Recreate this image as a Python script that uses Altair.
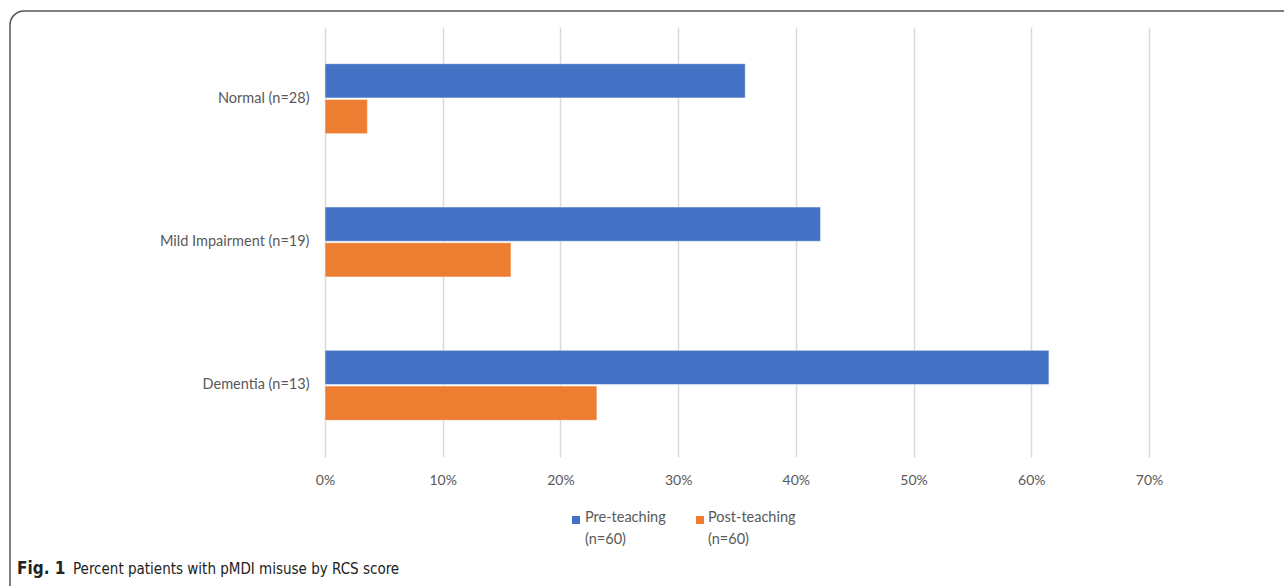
import altair as alt
import pandas as pd

categories = ["Normal (n=28)", "Mild Impairment (n=19)", "Dementia (n=13)"]
series = ["Pre-teaching", "Post-teaching"]
pre_values = [0.357, 0.421, 0.615]
post_values = [0.036, 0.158, 0.231]
x_ticks = [0, 0.1, 0.2, 0.3, 0.4, 0.5, 0.6, 0.7]
colors = ["#4472C4", "#ED7D31"]
legend_labels = ["Pre-teaching\n(n=60)", "Post-teaching\n(n=60)"]

rows = []
for c, v in zip(categories, pre_values):
    rows.append({"cat": c, "series": series[0], "value": v})
for c, v in zip(categories, post_values):
    rows.append({"cat": c, "series": series[1], "value": v})
df = pd.DataFrame(rows)

W, H = 824, 430
FONT = "Lato"
CAPFONT = "DejaVu Sans Condensed, Open Sans"
GRAY = "#595959"

bars = alt.Chart(df).mark_bar(stroke="white", strokeWidth=0.5).encode(
    x=alt.X("value:Q", scale=alt.Scale(domain=[0, 0.7], nice=False),
            axis=alt.Axis(values=x_ticks, format=".0%", title=None, grid=True,
                          gridColor="#d9d9d9", gridWidth=1.5, domain=False, ticks=False,
                          labelFlush=False,
                          labelPadding=16, labelFontSize=14, labelColor=GRAY, labelFont=FONT)),
    y=alt.Y("cat:N", sort=categories,
            scale=alt.Scale(paddingInner=0.512, paddingOuter=0.256),
            axis=alt.Axis(title=None, domain=False, ticks=False, grid=False,
                          labelPadding=16, labelFontSize=14.5, labelColor=GRAY, labelFont=FONT)),
    yOffset=alt.YOffset("series:N", sort=series, scale=alt.Scale(paddingInner=0.04)),
    color=alt.Color("series:N", sort=series,
                    scale=alt.Scale(domain=series, range=colors), legend=None),
)

leg_df = pd.DataFrame({"series": series, "label": legend_labels,
                       "sx": [251, 375], "tx": [260, 383]})
leg_sq = alt.Chart(leg_df).mark_square(size=64, opacity=1).encode(
    x=alt.X("sx:Q", scale=None), y=alt.value(493),
    color=alt.Color("series:N", scale=alt.Scale(domain=series, range=colors), legend=None),
)
leg_txt = alt.Chart(leg_df).mark_text(align="left", baseline="top", fontSize=14.5,
                                      font=FONT, color=GRAY, lineBreak="\n",
                                      lineHeight=22).encode(
    x=alt.X("tx:Q", scale=None), y=alt.value(484), text="label:N"
)

frame = alt.Chart(pd.DataFrame({"a": [0]})).mark_rect(
    fill=None, stroke="#555555", strokeWidth=1.5, cornerRadius=14, clip=False
).encode(x=alt.value(-315), x2=alt.value(1000), y=alt.value(-16), y2=alt.value(580))

cap1 = alt.Chart(pd.DataFrame({"t": ["Fig. 1"]})).mark_text(
    align="left", baseline="alphabetic", fontSize=17, fontWeight="bold",
    font=CAPFONT, color="#222222"
).encode(x=alt.value(-308), y=alt.value(547), text="t:N")
cap2 = alt.Chart(pd.DataFrame({"t": ["Percent patients with pMDI misuse by RCS score"]})).mark_text(
    align="left", baseline="alphabetic", fontSize=15,
    font=CAPFONT, color="#222222"
).encode(x=alt.value(-252), y=alt.value(547), text="t:N")

chart = alt.layer(bars, leg_sq, leg_txt, frame, cap1, cap2).resolve_scale(
    color="shared"
).properties(
    width=W, height=H,
    padding={"left": 325, "top": 27, "right": 135, "bottom": 129},
    autosize=alt.AutoSizeParams(type="none"),
).configure(background="white").configure_view(stroke=None)

chart.save("out.html", embed_options={"renderer": "svg", "actions": False})
